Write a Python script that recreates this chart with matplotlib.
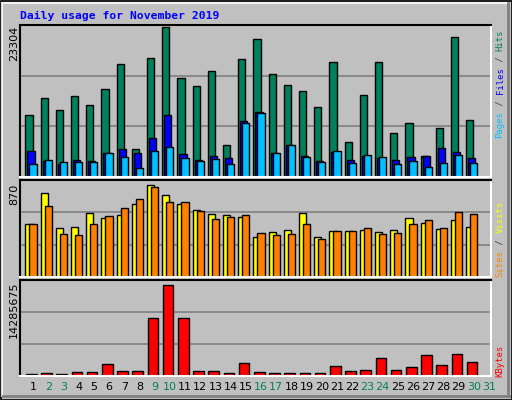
import numpy as np
import matplotlib.pyplot as plt
from matplotlib.patches import Rectangle

days = list(range(1, 32))
weekend = [2, 3, 9, 10, 16, 17, 23, 24, 30, 31]

hits = [9560, 12230, 10340, 12550, 11130, 13650, 17590, 4360, 18530, 23304,
        15380, 14120, 16480, 4990, 18370, 21520, 16010, 14280, 13330, 10820,
        17900, 5460, 12710, 17900, 6880, 8460, 3260, 7670, 21680, 8930, 0]
files = [4050, 2470, 2050, 2630, 2470, 3730, 4360, 3730, 6090, 9710,
         3570, 2630, 3260, 2940, 8770, 10030, 3730, 4990, 3260, 2470,
         3890, 2630, 3260, 2940, 2630, 3100, 3260, 4520, 3890, 2940, 0]
pages = [2000, 2630, 2310, 2310, 2310, 3730, 3100, 1370, 4050, 4680,
         2940, 2470, 2790, 2000, 8460, 9870, 3730, 4990, 3100, 2310,
         4050, 2160, 3420, 3100, 2000, 2470, 1530, 2160, 3420, 2160, 0]
visits = [503, 795, 465, 474, 606, 559, 587, 691, 870, 776,
          691, 634, 597, 587, 568, 380, 427, 446, 606, 380,
          436, 436, 446, 427, 446, 559, 512, 455, 540, 474, 0]
sites = [503, 672, 408, 399, 503, 578, 653, 738, 851, 710,
         710, 625, 550, 568, 587, 418, 399, 408, 503, 361,
         436, 436, 465, 408, 418, 503, 540, 465, 616, 597, 0]
kbytes = [365e3, 521e3, 365e3, 678e3, 678e3, 1929e3, 834e3, 834e3, 9124e3, 14285675,
          9124e3, 834e3, 834e3, 521e3, 2086e3, 678e3, 521e3, 521e3, 521e3, 521e3,
          1616e3, 834e3, 991e3, 2868e3, 991e3, 1460e3, 3337e3, 1773e3, 3493e3, 2242e3, 0]

W, H = 512, 400
BG = '#C0C0C0'
C_HITS, C_FILES, C_PAGES = '#00805C', '#0000FF', '#00C0FF'
C_VISITS, C_SITES, C_KB = '#FFFF00', '#FF8000', '#FF0000'
MONO = 'DejaVu Sans Mono'

fig = plt.figure(figsize=(W / 100, H / 100), dpi=100, facecolor=BG)

# outer 3D-ish frame
bg = fig.add_axes([0, 0, 1, 1])
bg.set_xlim(0, W)
bg.set_ylim(H, 0)
bg.axis('off')
bg.add_patch(Rectangle((0.5, 0.5), W - 1, H - 1, fill=False, ec='black', lw=1.2))
bg.plot([2, W - 3], [3, 3], color='white', lw=1.2)
bg.plot([2, 2], [3, H - 4], color='white', lw=1.2)
bg.plot([3, W - 3], [H - 4, H - 4], color='#808080', lw=2)
bg.plot([W - 4, W - 4], [3, H - 4], color='#808080', lw=2)

x0, x1 = 20, 491
x = np.array(days, dtype=float)
xlim = (1 - 13 / 15.2, 1 + (x1 - 33) / 15.2)


def panel(ytop, ybot):
    ax = fig.add_axes([x0 / W, 1 - ybot / H, (x1 - x0) / W, (ybot - ytop) / H])
    ax.set_facecolor(BG)
    ax.set_xlim(*xlim)
    ax.set_xticks([])
    ax.set_yticks([])
    for s in ['top', 'left']:
        ax.spines[s].set_color('black')
    for s in ['bottom', 'right']:
        ax.spines[s].set_color('white')
    for s in ax.spines.values():
        s.set_linewidth(1.5)
    return ax


def grid(ax, top):
    for f in (1 / 3, 2 / 3):
        ax.axhline(top * f, color='#808080', lw=1.2, zorder=0)


bar = dict(edgecolor='black', linewidth=1, align='edge', zorder=2)

# top panel: hits/files/pages
ax1 = panel(25, 177)
top1 = 23304 * 150 / 148
ax1.set_ylim(0, top1)
grid(ax1, top1)
ax1.bar(x - 0.5, hits, 0.48, color=C_HITS, **bar)
ax1.bar(x - 0.37, files, 0.48, color=C_FILES, **bar)
ax1.bar(x - 0.24, pages, 0.48, color=C_PAGES, **bar)

# middle: visits/sites
ax2 = panel(180, 277)
top2 = 870 * 97 / 92.4
ax2.set_ylim(0, top2)
grid(ax2, top2)
ax2.bar(x - 0.5, visits, 0.48, color=C_VISITS, **bar)
ax2.bar(x - 0.24, sites, 0.48, color=C_SITES, **bar)

# bottom: kbytes
ax3 = panel(280, 376)
top3 = 14285675 * 96 / 91.3
ax3.set_ylim(0, top3)
grid(ax3, top3)
ax3.bar(x - 0.46, kbytes, 0.7, color=C_KB, **bar)

# title
bg.text(20, 16, 'Daily usage for November 2019', color='#0000FF', fontsize=8.2,
        family=MONO, fontweight='bold', va='center', ha='left')

# left max labels
for ytxt, lab in [(26, '23304'), (184, '870'), (282, '14285675')]:
    bg.text(14, ytxt, lab, rotation=90, fontsize=8, va='top', ha='center', color='black')

# day labels
for d in days:
    xp = 33 + (d - 1) * 15.2
    bg.text(xp, 387, str(d), fontsize=8, ha='center', va='center',
            color=C_HITS if d in weekend else 'black')


def side_label(parts, ybottom, step=5.45):
    k = 0
    for txt, col in parts:
        yc = ybottom - step * (k + len(txt) / 2)
        bg.text(500, yc, txt, rotation=90, fontsize=6.4, family=MONO,
                color=col, ha='center', va='center')
        k += len(txt)


side_label([('Pages', C_PAGES), (' / ', '#404040'), ('Files', C_FILES),
            (' / ', '#404040'), ('Hits', C_HITS)], 138)
side_label([('Sites', C_SITES), (' / ', '#404040'), ('Visits', C_VISITS)], 277)
side_label([('KBytes', C_KB)], 377)

fig.savefig('out.png', dpi=100, facecolor=BG)
